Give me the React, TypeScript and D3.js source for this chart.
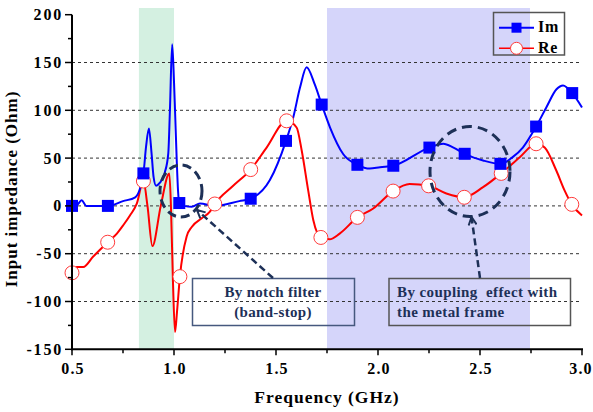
import * as d3 from "d3";

// ---- data ----
const imLine: [number, number][] = [
  [0.5, 0], [0.525, 1], [0.547, 6], [0.57, 0], [0.62, 0], [0.676, 0],
  [0.75, 5], [0.81, 9], [0.85, 34], [0.863, 62], [0.877, 81], [0.89, 55],
  [0.9, 30], [0.912, 21], [0.93, 24], [0.955, 35], [0.972, 55], [0.98, 100],
  [0.991, 169], [1.0, 130], [1.005, 100], [1.013, 50], [1.02, 15], [1.026, 3],
  [1.05, 0], [1.087, -1], [1.127, 2.5], [1.2, 0], [1.32, 5], [1.376, 7.5],
  [1.47, 27], [1.549, 68], [1.585, 93], [1.618, 124], [1.65, 145], [1.69, 127],
  [1.724, 106], [1.765, 82], [1.83, 54], [1.899, 43], [1.96, 39], [2.01, 40.5],
  [2.075, 42], [2.252, 61], [2.32, 65], [2.37, 61], [2.425, 54.5], [2.515, 47.5],
  [2.6, 44], [2.66, 51], [2.71, 61], [2.775, 83], [2.825, 103], [2.875, 122],
  [2.907, 126], [2.952, 118], [3.0, 103],
];
const imMarkers: [number, number][] = [
  [0.5, 0], [0.676, 0], [0.85, 34], [1.026, 3], [1.376, 7.5], [1.549, 68],
  [1.724, 106], [1.899, 43], [2.075, 42], [2.252, 61], [2.425, 54.5],
  [2.6, 44], [2.775, 83], [2.952, 118],
];

const reLine: [number, number][] = [
  [0.5, -70], [0.523, -64], [0.555, -64], [0.604, -53], [0.675, -38],
  [0.72, -29], [0.752, -20], [0.784, -10], [0.817, 2], [0.85, 26], [0.87, 0],
  [0.894, -42], [0.935, 0], [0.977, 34], [0.985, 0], [0.995, -80],
  [1.005, -132], [1.015, -110], [1.029, -74], [1.062, -32], [1.087, -22],
  [1.136, -13], [1.176, -6], [1.2, 2], [1.29, 21], [1.376, 38], [1.454, 61],
  [1.552, 89], [1.601, 82], [1.626, 58], [1.658, 16], [1.683, -15], [1.72, -33],
  [1.763, -35], [1.812, -29], [1.899, -12], [1.975, -3], [2.074, 15.5],
  [2.155, 23], [2.248, 21], [2.335, 13], [2.423, 9], [2.515, 19.6],
  [2.604, 34], [2.695, 51], [2.775, 65], [2.817, 61], [2.874, 37],
  [2.915, 16], [2.95, 1.6], [3.0, -10],
];
const reMarkers: [number, number][] = [
  [0.5, -70], [0.675, -38], [0.85, 26], [1.029, -74], [1.2, 2], [1.376, 38],
  [1.552, 89], [1.72, -33], [1.899, -12], [2.074, 15.5], [2.248, 21],
  [2.423, 9], [2.604, 34], [2.775, 65], [2.95, 1.6],
];

const greenBand: [number, number] = [0.828, 1.0];
const purpleBand: [number, number] = [1.75, 2.745];

const yMajor = [-150, -100, -50, 0, 50, 100, 150, 200];
const yGrid = [-100, -50, 0, 50, 100, 150];
const xMajor = [0.5, 1.0, 1.5, 2.0, 2.5, 3.0];

// ---- layout ----
const W = 593;
const H = 412;
const LEFT = 72;
const RIGHT = 582;
const TOP = 14.7;
const BOTTOM = 349.3;
const FONT = "'Liberation Serif', 'Times New Roman', serif";
const NAVY = "#1d3057";

const x = d3.scaleLinear().domain([0.5, 3]).range([LEFT, RIGHT]);
const y = d3.scaleLinear().domain([-150, 200]).range([BOTTOM, TOP]);

const line = d3
  .line<[number, number]>()
  .x((d) => x(d[0]))
  .y((d) => y(d[1]))
  .curve(d3.curveMonotoneX);

export default function App() {
  const yMinor = d3.range(-150, 201, 25).filter((v) => v % 50 !== 0);
  const xMinor = d3.range(0.75, 3, 0.5);
  const fmt = d3.format(".1f");
  const bandTop = y(207);

  return (
    <svg
      width={W}
      height={H}
      style={{ position: "absolute", left: 0, top: 0, background: "#fff" }}
      fontFamily={FONT}
      fontWeight="bold"
    >
      <defs>
        <marker
          id="arrow"
          viewBox="0 0 10 10"
          refX={9}
          refY={5}
          markerWidth={4}
          markerHeight={4}
          orient="auto"
        >
          <path d="M1,1 L9,5 L1,9" fill="none" stroke={NAVY} strokeWidth={2} />
        </marker>
      </defs>

      {/* shaded bands */}
      <rect
        x={x(greenBand[0])}
        y={bandTop}
        width={x(greenBand[1]) - x(greenBand[0])}
        height={BOTTOM - bandTop}
        fill="#d4f0e1"
      />
      <rect
        x={x(purpleBand[0])}
        y={bandTop}
        width={x(purpleBand[1]) - x(purpleBand[0])}
        height={BOTTOM - bandTop}
        fill="#d5d5fa"
      />

      {/* grid */}
      {yGrid.map((v) => (
        <line
          key={v}
          x1={LEFT}
          x2={RIGHT}
          y1={y(v)}
          y2={y(v)}
          stroke="#333"
          strokeWidth={1}
          strokeDasharray="3 3"
        />
      ))}

      {/* annotation boxes */}
      <rect x={192.5} y={278.5} width={162} height={47} fill="none" stroke="#46587e" strokeWidth={1.5} />
      <text x={273} y={297} textAnchor="middle" fontSize={15} fill={NAVY} letterSpacing={0.3}>
        By notch filter
      </text>
      <text x={273} y={317} textAnchor="middle" fontSize={15} fill={NAVY} letterSpacing={0.3}>
        (band-stop)
      </text>
      <rect x={389} y={278.5} width={181.5} height={47} fill="none" stroke="#555" strokeWidth={1.5} />
      <text x={397} y={297} fontSize={15} fill={NAVY} letterSpacing={0.4} style={{ whiteSpace: "pre" }}>
        {"By coupling  effect with"}
      </text>
      <text x={397} y={317} fontSize={15} fill={NAVY} letterSpacing={0.4}>
        the metal frame
      </text>

      {/* curves */}
      <path d={line(reLine) ?? ""} fill="none" stroke="#ff0000" strokeWidth={2} />
      <path d={line(imLine) ?? ""} fill="none" stroke="#0000ff" strokeWidth={2} />

      {reMarkers.map((d, i) => (
        <circle key={i} cx={x(d[0])} cy={y(d[1])} r={7} fill="#fff" stroke="#ff3b3b" strokeWidth={1} />
      ))}
      {imMarkers.map((d, i) => (
        <rect key={i} x={x(d[0]) - 6} y={y(d[1]) - 6} width={12} height={12} fill="#0000ff" />
      ))}

      {/* dashed ellipses and arrows */}
      <ellipse cx={181} cy={191} rx={21} ry={26} fill="none" stroke={NAVY} strokeWidth={3} strokeDasharray="9 5" />
      <ellipse cx={470} cy={171.5} rx={40} ry={45} fill="none" stroke={NAVY} strokeWidth={3} strokeDasharray="10 6" />
      <line x1={273} y1={278} x2={197} y2={210} stroke={NAVY} strokeWidth={2.5} strokeDasharray="7 4" markerEnd="url(#arrow)" />
      <line x1={480} y1={278} x2={471.5} y2={217} stroke={NAVY} strokeWidth={2.5} strokeDasharray="7 4" markerEnd="url(#arrow)" />

      {/* axes */}
      <line x1={LEFT} x2={LEFT} y1={TOP} y2={BOTTOM + 1} stroke="#000" strokeWidth={2} />
      <line x1={LEFT - 1} x2={RIGHT + 1} y1={BOTTOM} y2={BOTTOM} stroke="#000" strokeWidth={2} />
      {yMajor.map((v) => (
        <g key={v}>
          <line x1={LEFT - 7} x2={LEFT} y1={y(v)} y2={y(v)} stroke="#000" strokeWidth={1.5} />
          <text x={63} y={y(v) + 5.5} textAnchor="end" fontSize={16} letterSpacing={1.8}>
            {v}
          </text>
        </g>
      ))}
      {yMinor.map((v) => (
        <line key={v} x1={LEFT - 4} x2={LEFT} y1={y(v)} y2={y(v)} stroke="#000" strokeWidth={1.5} />
      ))}
      {xMajor.map((v) => (
        <g key={v}>
          <line x1={x(v)} x2={x(v)} y1={BOTTOM} y2={BOTTOM + 6} stroke="#000" strokeWidth={1.5} />
          <text x={Math.min(x(v) + 1, 581)} y={374} textAnchor="middle" fontSize={16} letterSpacing={1.2}>
            {fmt(v)}
          </text>
        </g>
      ))}
      {xMinor.map((v) => (
        <line key={v} x1={x(v)} x2={x(v)} y1={BOTTOM} y2={BOTTOM + 4} stroke="#000" strokeWidth={1.5} />
      ))}

      {/* axis titles */}
      <text x={327} y={403} textAnchor="middle" fontSize={17.5} letterSpacing={1}>
        Frequency (GHz)
      </text>
      <text
        transform={`translate(17,189) rotate(-90)`}
        textAnchor="middle"
        fontSize={17}
        letterSpacing={1}
      >
        Input impedance (Ohm)
      </text>

      {/* legend */}
      <rect x={493.5} y={12.5} width={71} height={42.5} fill="none" stroke="#555" strokeWidth={1.5} />
      <line x1={499} x2={534} y1={27.7} y2={27.7} stroke="#0000ff" strokeWidth={2} />
      <rect x={511.5} y={22.7} width={10} height={10} fill="#0000ff" />
      <text x={538} y={32} fontSize={16} letterSpacing={0.8}>
        Im
      </text>
      <line x1={499} x2={534} y1={48.3} y2={48.3} stroke="#ff0000" strokeWidth={1.5} />
      <circle cx={516.5} cy={48.3} r={6} fill="#fff" stroke="#ff3b3b" strokeWidth={1} />
      <text x={538} y={52.5} fontSize={16} letterSpacing={0.8}>
        Re
      </text>
    </svg>
  );
}
